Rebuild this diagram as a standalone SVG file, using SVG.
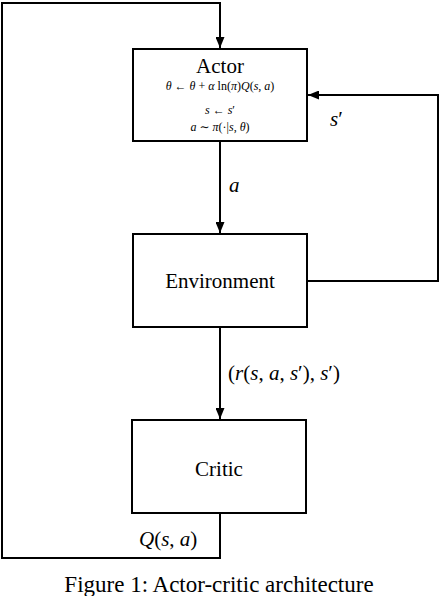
<svg xmlns="http://www.w3.org/2000/svg" width="440" height="596" viewBox="0 0 440 596">
<style>
.box{fill:#fff;stroke:#000;stroke-width:2}
.ln{fill:none;stroke:#000;stroke-width:2}
.t{font-family:"Liberation Serif","DejaVu Serif",serif;fill:#000;text-anchor:middle}
.m{font-family:"Liberation Serif","DejaVu Serif",serif;fill:#000}
.i{font-style:italic}
</style>
<defs>
<marker id="ah" viewBox="0 0 10 10" refX="10" refY="5" markerWidth="5.5" markerHeight="4.5" orient="auto" markerUnits="strokeWidth" preserveAspectRatio="none">
<path d="M0,0 L10,5 L0,10 z" fill="#000"/>
</marker>
</defs>
<rect width="440" height="596" fill="#fff"/>
<g id="connectors">
<path class="ln" d="M220,513 V558 H2 V3 H220 V48" marker-end="url(#ah)"/>
<path class="ln" d="M220,141 V233" marker-end="url(#ah)"/>
<path class="ln" d="M220,327 V419" marker-end="url(#ah)"/>
<path class="ln" d="M307,281 H438 V95 H308" marker-end="url(#ah)"/>
<text class="m i" x="229" y="192" font-size="21">a</text>
<text class="m" x="330" y="126" font-size="21"><tspan class="i">s</tspan>′</text>
<text class="m" x="228" y="380" font-size="21">(<tspan class="i">r</tspan>(<tspan class="i">s</tspan>, <tspan class="i">a</tspan>, <tspan class="i">s</tspan>′), <tspan class="i">s</tspan>′)</text>
<text class="m" x="139" y="546" font-size="21"><tspan class="i">Q</tspan>(<tspan class="i">s</tspan>, <tspan class="i">a</tspan>)</text>
</g>
<g id="actor">
<rect class="box" x="133" y="49" width="174" height="92"/>
<text class="t" x="220" y="73" font-size="21">Actor</text>
<text class="t" x="220" y="90" font-size="12"><tspan class="i">θ</tspan> ← <tspan class="i">θ</tspan> + <tspan class="i">α</tspan> ln(<tspan class="i">π</tspan>)<tspan class="i">Q</tspan>(<tspan class="i">s</tspan>, <tspan class="i">a</tspan>)</text>
<text class="t" x="220" y="114" font-size="12"><tspan class="i">s</tspan> ← <tspan class="i">s</tspan>′</text>
<text class="t" x="220" y="131" font-size="12"><tspan class="i">a</tspan> ∼ <tspan class="i">π</tspan>(·|<tspan class="i">s</tspan>, <tspan class="i">θ</tspan>)</text>
</g>
<g id="environment">
<rect class="box" x="133" y="234" width="174" height="93"/>
<text class="t" x="220" y="288" font-size="21">Environment</text>
</g>
<g id="critic">
<rect class="box" x="132" y="420" width="174" height="93"/>
<text class="t" x="219" y="476" font-size="21">Critic</text>
</g>
<text class="t" x="219" y="592" font-size="23">Figure 1: Actor-critic architecture</text>
</svg>
